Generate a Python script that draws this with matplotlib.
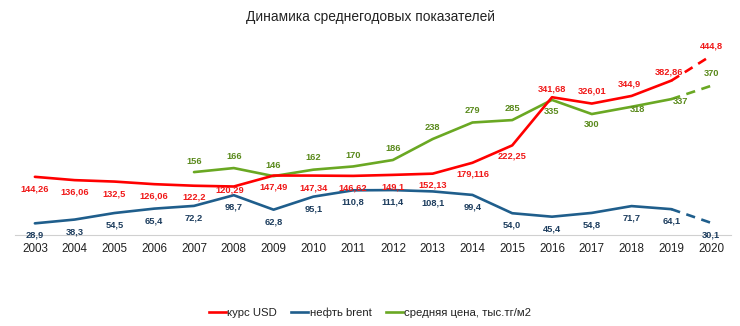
import matplotlib
matplotlib.use("Agg")
from matplotlib import pyplot as plt
from matplotlib.lines import Line2D

plt.rcParams['font.family'] = ['Liberation Sans', 'DejaVu Sans']

years = list(range(2003, 2021))
usd = [144.26, 136.06, 132.5, 126.06, 122.2, 120.29, 147.49, 147.34, 146.62,
       149.1, 152.13, 179.116, 222.25, 341.68, 326.01, 344.9, 382.86, 444.8]
usd_labels = ['144,26', '136,06', '132,5', '126,06', '122,2', '120,29', '147,49',
              '147,34', '146,62', '149,1', '152,13', '179,116', '222,25', '341,68',
              '326,01', '344,9', '382,86', '444,8']
brent = [28.9, 38.3, 54.5, 65.4, 72.2, 98.7, 62.8, 95.1, 110.8, 111.4, 108.1,
         99.4, 54.0, 45.4, 54.8, 71.7, 64.1, 30.1]
brent_labels = ['28,9', '38,3', '54,5', '65,4', '72,2', '98,7', '62,8', '95,1',
                '110,8', '111,4', '108,1', '99,4', '54,0', '45,4', '54,8', '71,7',
                '64,1', '30,1']
price_years = list(range(2007, 2021))
price = [156, 166, 146, 162, 170, 186, 238, 279, 285, 335, 300, 318, 337, 370]
price_labels = [str(v) for v in price]

c_red, c_red_t = '#ff0000', '#f01818'
c_blue, c_blue_t = '#1f5e8c', '#1d3d5e'
c_green, c_green_t = '#6aa823', '#5a8a1c'

# label offsets in pixels (dx, dy), dy positive = down
usd_off = [(0, 12), (0, 12), (0, 12), (0, 12), (0, 11), (-4, 4), (0, 11), (0, 12),
           (0, 12), (0, 12), (0, 11), (0, 11), (0, 11), (0, -8), (0, -13), (-2, -12),
           (-2, -9), (0, -10)]
brent_off = [(0, 12)] * len(brent)
price_off = [(0, -11), (0, -12), (0, -11), (0, -12), (0, -11), (0, -12), (0, -12),
             (0, -12), (0, -12), (0, 12), (0, 10), (6, 3), (9, 2), (0, -12)]

fig = plt.figure(figsize=(7.4, 3.26), dpi=100)
ax = fig.add_axes([15 / 740, 1 - 235 / 326, 716 / 740, 201.6 / 326])


def draw(xs, ys, labels, offs, col, tcol):
    ax.plot(xs[:-1], ys[:-1], color=col, lw=1.9, solid_capstyle='round')
    ax.plot(xs[-2:], ys[-2:], color=col, lw=1.9, ls=(0, (3.5, 2.5)))
    for x, y, t, (dx, dy) in zip(xs, ys, labels, offs):
        ax.annotate(t, (x, y), xytext=(dx, -dy), textcoords='offset pixels',
                    ha='center', va='center', fontsize=6.7, fontweight='bold',
                    color=tcol)


draw(years, brent, brent_labels, brent_off, c_blue, c_blue_t)
draw(price_years, price, price_labels, price_off, c_green, c_green_t)
draw(years, usd, usd_labels, usd_off, c_red, c_red_t)

ax.set_xlim(2002.5, 2020.5)
ax.set_ylim(0, 500)
ax.set_xticks(years)
ax.set_xticklabels([str(y) for y in years], fontsize=8.4, color='#222222')
ax.tick_params(axis='x', length=0, pad=6)
ax.set_yticks([])
for s in ['top', 'right', 'left']:
    ax.spines[s].set_visible(False)
ax.spines['bottom'].set_color('#d0d0d0')
ax.spines['bottom'].set_linewidth(0.8)

fig.text(0.5, 1 - 17 / 326, 'Динамика среднегодовых показателей',
         ha='center', va='center', fontsize=9.9, color='#222222')

handles = [Line2D([], [], color=c_red, lw=1.9),
           Line2D([], [], color=c_blue, lw=1.9),
           Line2D([], [], color=c_green, lw=1.9)]
fig.legend(handles, ['курс USD', 'нефть brent', 'средняя цена, тыс.тг/м2'],
           loc='center', bbox_to_anchor=(370 / 740, 1 - 313 / 326), ncol=3,
           frameon=False, fontsize=8.2, handlelength=1.5, handletextpad=0.1,
           columnspacing=1.3, labelcolor='#222222')

fig.savefig('out.png', dpi=100)
